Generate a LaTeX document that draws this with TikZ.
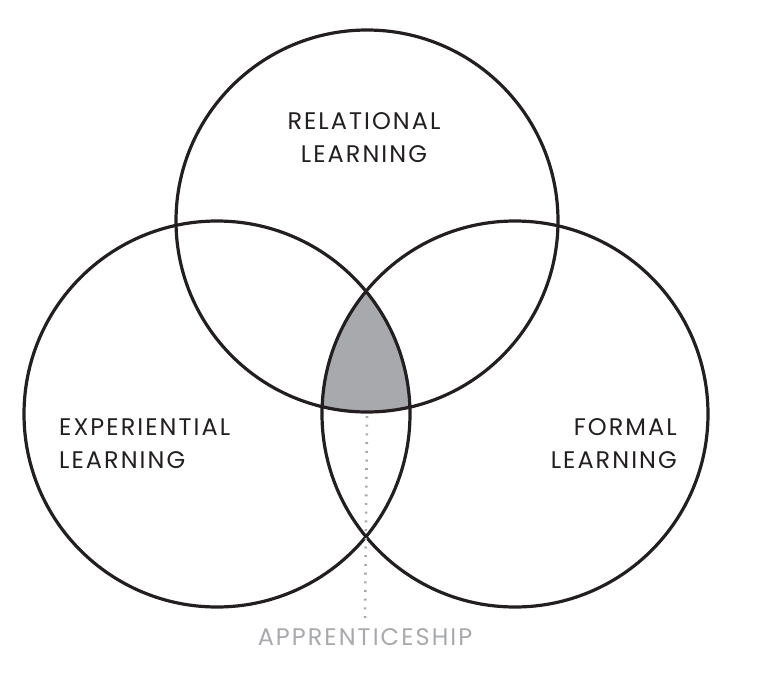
\documentclass[tikz,border=0pt]{standalone}
\usepackage{fontspec}
\setmainfont{Poppins}
\newfontfamily\vennfont[LetterSpace=8.5]{Poppins}
\usetikzlibrary{positioning}
\definecolor{inkline}{HTML}{231F20}
\definecolor{coregrey}{HTML}{A7A9AC}

\begin{document}
\begin{tikzpicture}[x=1pt, y=-1pt, ring/.style={line width=3.2pt, draw=inkline}, vennlabel/.style={font=\vennfont\fontsize{24}{33}\selectfont, text=inkline, inner sep=0pt}]
	\useasboundingbox (0,0) rectangle (780,683);
	\coordinate (top) at (367,221);
	\coordinate (left) at (217,414);
	\coordinate (right) at (515,414);
	\begin{scope}
		\clip (top) circle (191pt);
		\clip (left) circle (193pt);
		\fill[coregrey] (right) circle (193pt);
	\end{scope}
	\draw[ring] (top) circle (191pt);
	\draw[ring] (left) circle (193pt);
	\draw[ring] (right) circle (193pt);
	\node[vennlabel, align=center] (relational) at (364,138) {RELATIONAL\\LEARNING};
	\node[vennlabel, align=left, anchor=west] (experiential) at (59,444) {EXPERIENTIAL\\LEARNING};
	\node[vennlabel, align=right, anchor=east] (formal) at (677,444) {FORMAL\\LEARNING};
	\node[vennlabel, text=coregrey] (apprenticeship) at (365,637) {APPRENTICESHIP};
	\coordinate (core) at (367,416);
	\draw[coregrey, line width=2.6pt, dash pattern=on 2pt off 6.7pt] (core) -- ([yshift=4pt]apprenticeship.north);
\end{tikzpicture}
\end{document}
